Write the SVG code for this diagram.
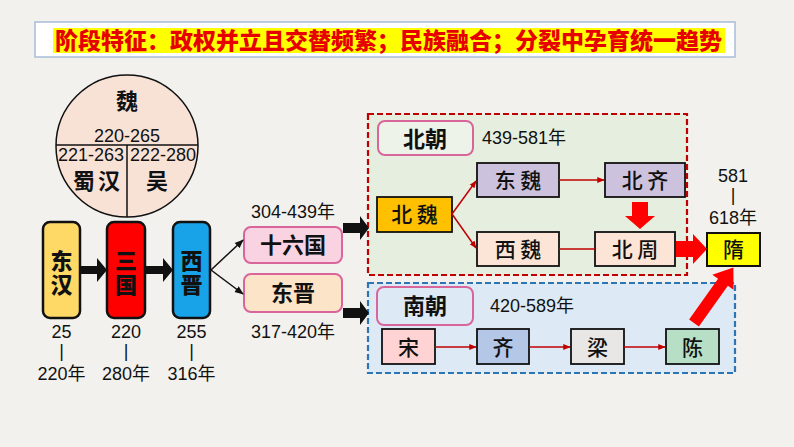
<svg xmlns="http://www.w3.org/2000/svg" width="794" height="447" viewBox="0 0 794 447">
<defs>
<style>
.num{font-family:"Liberation Sans","Noto Sans CJK SC",sans-serif;font-size:18px;fill:#111;text-anchor:middle}
.numl{font-family:"Liberation Sans","Noto Sans CJK SC",sans-serif;font-size:18px;fill:#111;text-anchor:start}
.big{font-family:"Noto Sans CJK SC",sans-serif;font-weight:900;font-size:22px;fill:#111;text-anchor:middle;writing-mode:vertical-rl;letter-spacing:2px}
.lbl{font-family:"Noto Sans CJK SC",sans-serif;font-weight:700;font-size:22px;fill:#111;text-anchor:middle}
.song{font-family:"Noto Sans CJK SC",sans-serif;font-weight:500;font-size:21px;fill:#111;text-anchor:middle}
.box{stroke:#111;stroke-width:1.8}
.dyn{stroke:#111;stroke-width:2.5}
.pink{stroke:#D9669A;stroke-width:2}
.red{stroke:#C00000;stroke-width:1.5;fill:none}
.blk{stroke:#111;stroke-width:1.5;fill:none}
</style>
<marker id="ar" viewBox="0 0 10 10" refX="9" refY="5" markerWidth="5" markerHeight="5" orient="auto"><path d="M0,1 L10,5 L0,9 Z" fill="#C00000"/></marker>
<marker id="ab" viewBox="0 0 10 10" refX="9" refY="5" markerWidth="6" markerHeight="6" orient="auto"><path d="M0,1 L10,5 L0,9 Z" fill="#111"/></marker>
</defs>
<rect x="0" y="0" width="794" height="447" fill="#F3F1ED"/>

<g id="title">
<rect x="35" y="22" width="700" height="35" fill="#FFFFFF" stroke="#A9BCD8" stroke-width="1.5"/>
<rect x="53" y="28" width="672" height="25" fill="#FFFF00"/>
<text x="55" y="49" font-family="'Noto Sans CJK SC',sans-serif" font-weight="900" font-size="23" fill="#E60000" textLength="667" lengthAdjust="spacingAndGlyphs">阶段特征：政权并立且交替频繁；民族融合；分裂中孕育统一趋势</text>
</g>

<g id="circle">
<circle cx="127" cy="146" r="71" fill="#F8E2D6" stroke="#111" stroke-width="1.5"/>
<line x1="56" y1="145" x2="198" y2="145" stroke="#111" stroke-width="1.5"/>
<line x1="127" y1="145" x2="127" y2="217" stroke="#111" stroke-width="1.5"/>
<text x="127" y="109" class="lbl" font-size="17">魏</text>
<text x="127" y="142" class="num" font-size="17">220-265</text>
<text x="91" y="161" class="num" font-size="17">221-263</text>
<text x="163" y="161" class="num" font-size="17">222-280</text>
<text x="98" y="189" class="lbl" font-size="17" letter-spacing="3">蜀汉</text>
<text x="157" y="189" class="lbl" font-size="17">吴</text>
</g>

<g id="donghan">
<rect x="43" y="222" width="37" height="96" rx="7" fill="#FFD966" class="dyn"/>
<text x="61.5" y="274" class="big">东汉</text>
<text x="61.5" y="338" class="num">25</text>
<text x="61.5" y="357" class="num">|</text>
<text x="61.5" y="380" class="num">220年</text>
</g>
<g id="sanguo">
<rect x="107" y="222" width="38" height="96" rx="7" fill="#FF0000" class="dyn"/>
<text x="126" y="274" class="big">三国</text>
<text x="126" y="338" class="num">220</text>
<text x="126" y="357" class="num">|</text>
<text x="126" y="380" class="num">280年</text>
</g>
<g id="xijin">
<rect x="173" y="222" width="37" height="96" rx="7" fill="#18A3E8" class="dyn"/>
<text x="191.5" y="274" class="big">西晋</text>
<text x="191.5" y="338" class="num">255</text>
<text x="191.5" y="357" class="num">|</text>
<text x="191.5" y="380" class="num">316年</text>
</g>

<g id="shiliuguo">
<text x="293" y="218" class="num" font-size="19">304-439年</text>
<rect x="244" y="227" width="98" height="36" rx="7" fill="#F9D3E2" class="pink"/>
<text x="293" y="253" class="lbl">十六国</text>
</g>
<g id="dongjin">
<rect x="244" y="274" width="98" height="38" rx="7" fill="#FCE4C8" class="pink"/>
<text x="293" y="301" class="lbl">东晋</text>
<text x="293" y="338" class="num" font-size="19">317-420年</text>
</g>

<g id="beichao">
<rect x="368" y="114" width="319" height="161" fill="#E6EFDF" stroke="#C00000" stroke-width="2.2" stroke-dasharray="6,3"/>
<rect x="378" y="121" width="95" height="34" rx="7" fill="#EEF3EA" class="pink"/>
<text x="425" y="147" class="lbl" font-size="24">北朝</text>
<text x="482" y="144" class="numl">439-581年</text>
</g>
<g id="nanchao">
<rect x="368" y="283" width="367" height="90" fill="#DDEAF6" stroke="#2E75B6" stroke-width="2.2" stroke-dasharray="6,3"/>
<rect x="377" y="287" width="96" height="38" rx="7" fill="#DDEAF6" class="pink"/>
<text x="425" y="314" class="lbl" font-size="24">南朝</text>
<text x="490" y="312" class="numl">420-589年</text>
</g>

<g id="beiwei"><rect x="377" y="197" width="75" height="35" fill="#FFC000" class="box"/><text x="414.5" y="222" class="song">北 魏</text></g>
<g id="dongwei"><rect x="477" y="163" width="82" height="34" fill="#CCC2DE" class="box"/><text x="518" y="188" class="song">东 魏</text></g>
<g id="beiqi"><rect x="605" y="163" width="80" height="34" fill="#CCC2DE" class="box"/><text x="645" y="188" class="song">北 齐</text></g>
<g id="xiwei"><rect x="477" y="232" width="82" height="34" fill="#FCE4D6" class="box"/><text x="518" y="257" class="song">西 魏</text></g>
<g id="beizhou"><rect x="595" y="232" width="80" height="34" fill="#FCE4D6" class="box"/><text x="635" y="257" class="song">北 周</text></g>

<g id="song"><rect x="382" y="329" width="53" height="35" fill="#FFD3D3" class="box"/><text x="408.5" y="355" class="song" font-size="23">宋</text></g>
<g id="qi"><rect x="477" y="329" width="52" height="35" fill="#B4C7E7" class="box"/><text x="503" y="355" class="song" font-size="23">齐</text></g>
<g id="liang"><rect x="571" y="329" width="53" height="35" fill="#E8E7E6" class="box"/><text x="597.5" y="355" class="song" font-size="23">梁</text></g>
<g id="chen"><rect x="666" y="329" width="53" height="35" fill="#B7DFC5" class="box"/><text x="692.5" y="355" class="song" font-size="23">陈</text></g>

<g id="sui">
<text x="733" y="182" class="num">581</text>
<text x="733" y="201" class="num">|</text>
<text x="733" y="224" class="num">618年</text>
<rect x="707" y="233" width="53" height="33" fill="#FFFF00" stroke="#111" stroke-width="2"/>
<text x="733.5" y="257" class="song" font-size="22">隋</text>
</g>

<g id="connectors">
<polygon points="81,266 97,266 97,258 107,270 97,282 97,274 81,274" fill="#111"/>
<polygon points="146,266 163,266 163,258 173,270 163,282 163,274 146,274" fill="#111"/>
<line x1="211" y1="270" x2="243" y2="240" class="blk" marker-end="url(#ab)"/>
<line x1="211" y1="270" x2="243" y2="294" class="blk" marker-end="url(#ab)"/>
<polygon points="343,223 360,223 360,216 369,228 360,240 360,233 343,233" fill="#111"/>
<polygon points="343,308 360,308 360,301 369,313 360,325 360,318 343,318" fill="#111"/>
<line x1="452" y1="214" x2="476" y2="181" class="red" marker-end="url(#ar)"/>
<line x1="452" y1="214" x2="476" y2="248" class="red" marker-end="url(#ar)"/>
<line x1="559" y1="180" x2="604" y2="180" class="red" marker-end="url(#ar)"/>
<line x1="559" y1="249" x2="595" y2="249" class="red"/>
<line x1="435" y1="347" x2="476" y2="347" class="red" marker-end="url(#ar)"/>
<line x1="529" y1="347" x2="570" y2="347" class="red" marker-end="url(#ar)"/>
<line x1="624" y1="347" x2="665" y2="347" class="red" marker-end="url(#ar)"/>
<polygon points="632,202 648,202 648,216 655,216 640,229 625,216 632,216" fill="#FF0000"/>
<polygon points="676,241 693,241 693,234 707,249 693,264 693,257 676,257" fill="#FF0000"/>
<polygon points="0,-6 50,-6 50,-13 68,0 50,13 50,6 0,6" fill="#FF0000" transform="translate(694,323) rotate(-54.6)"/>
</g>
</svg>
